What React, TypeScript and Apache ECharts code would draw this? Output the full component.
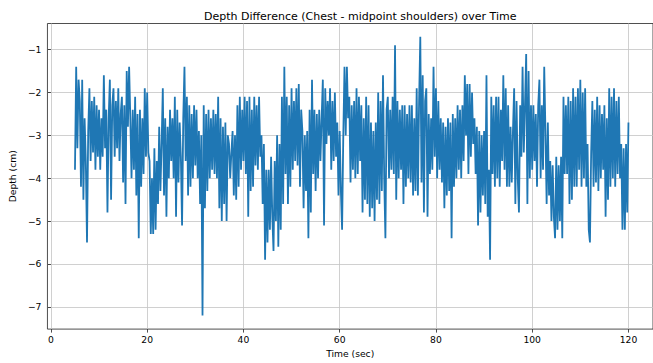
import React, { useEffect, useRef } from "react";
import * as echarts from "echarts";

const TITLE = "Depth Difference (Chest - midpoint shoulders) over Time";
const X_LABEL = "Time (sec)";
const Y_LABEL = "Depth (cm)";
const X_TICKS = [0, 20, 40, 60, 80, 100, 120];
const Y_TICKS = [-7, -6, -5, -4, -3, -2, -1];

// sampling of the recorded signal (seconds)
const SAMPLE_START = 5.0;
const SAMPLE_STEP = 0.25;

// depth values (cm), four samples per second
const depth = [
  -3.8, -1.4, -3.3, -1.7, // 5
  -2.2, -4.2, -1.7, -4.5, // 6
  -2.6, -3.6, -5.5, -2.9, // 7
  -1.9, -3.6, -2.2, -3.4, // 8
  -2.1, -3.8, -2.3, -3.5, // 9
  -2.4, -3.8, -2.6, -3.5, // 10
  -1.6, -3.3, -2.4, -4.8, // 11
  -2.6, -1.7, -4.5, -2.3, // 12
  -1.9, -3.5, -2.2, -3.3, // 13
  -1.9, -3.6, -2.5, -2.1, // 14
  -4.1, -2.3, -4.6, -1.5, // 15
  -2.8, -1.4, -2.6, -4.0, // 16
  -2.4, -3.8, -2.1, -4.4, // 17
  -2.5, -5.4, -2.4, -4.2, // 18
  -2.6, -3.9, -1.9, -3.5, // 19
  -2.0, -3.4, -3.6, -5.3, // 20
  -4.0, -5.3, -3.3, -5.2, // 21
  -3.6, -4.6, -2.8, -4.3, // 22
  -3.2, -1.9, -4.4, -2.6, // 23
  -4.9, -2.8, -4.0, -2.4, // 24
  -3.6, -2.6, -4.0, -2.1, // 25
  -4.9, -2.4, -4.1, -2.7, // 26
  -3.5, -5.1, -2.6, -1.4, // 27
  -3.6, -2.1, -4.4, -2.3, // 28
  -4.2, -2.5, -4.0, -2.3, // 29
  -3.7, -2.4, -4.0, -2.9, // 30
  -4.6, -3.0, -7.2, -2.3, // 31
  -4.7, -2.5, -4.3, -2.4, // 32
  -4.0, -2.6, -3.8, -2.4, // 33
  -3.9, -2.5, -4.0, -2.1, // 34
  -4.7, -2.6, -5.0, -2.8, // 35
  -4.6, -2.7, -5.0, -3.0, // 36
  -3.2, -4.0, -3.4, -2.9, // 37
  -4.4, -3.0, -4.5, -2.3, // 38
  -4.2, -2.1, -3.8, -2.4, // 39
  -3.6, -2.1, -3.9, -2.2, // 40
  -4.9, -2.1, -4.3, -2.4, // 41
  -4.2, -2.1, -3.7, -2.3, // 42
  -3.8, -2.1, -3.5, -3.0, // 43
  -4.6, -3.2, -5.9, -3.8, // 44
  -5.5, -3.8, -5.2, -3.5, // 45
  -4.9, -5.7, -3.6, -5.0, // 46
  -3.0, -5.6, -3.2, -5.2, // 47
  -2.1, -4.6, -1.4, -3.9, // 48
  -2.1, -4.6, -2.3, -4.2, // 49
  -1.9, -3.8, -2.2, -3.6, // 50
  -1.9, -3.7, -1.8, -4.2, // 51
  -2.4, -2.9, -4.7, -3.0, // 52
  -4.3, -2.9, -5.4, -2.4, // 53
  -4.8, -1.7, -3.9, -2.4, // 54
  -4.3, -2.5, -4.0, -2.4, // 55
  -3.6, -2.6, -1.7, -5.1, // 56
  -1.9, -3.2, -2.2, -3.0, // 57
  -1.9, -3.8, -2.2, -3.6, // 58
  -2.0, -3.5, -2.7, -4.4, // 59
  -2.9, -4.3, -5.2, -3.0, // 60
  -1.4, -3.0, -1.4, -2.6, // 61
  -2.1, -4.1, -2.3, -3.8, // 62
  -2.2, -4.0, -1.9, -3.9, // 63
  -2.1, -3.6, -2.3, -4.8, // 64
  -2.6, -4.5, -2.1, -4.6, // 65
  -2.3, -4.9, -2.7, -4.7, // 66
  -2.9, -5.0, -2.7, -4.5, // 67
  -2.0, -4.6, -2.2, -4.3, // 68
  -1.6, -4.0, -5.4, -2.4, // 69
  -2.1, -4.0, -2.4, -3.8, // 70
  -2.1, -3.9, -0.9, -4.5, // 71
  -2.2, -4.0, -2.4, -3.8, // 72
  -2.3, -4.6, -2.3, -4.2, // 73
  -2.5, -4.0, -2.3, -4.1, // 74
  -2.3, -4.4, -2.6, -4.3, // 75
  -1.9, -4.4, -2.2, -0.7, // 76
  -4.1, -1.6, -4.8, -2.2, // 77
  -1.9, -4.9, -2.5, -3.9, // 78
  -2.6, -3.8, -1.4, -3.5, // 79
  -1.9, -4.0, -2.2, -3.8, // 80
  -2.6, -4.1, -2.7, -4.7, // 81
  -2.8, -4.4, -2.6, -4.3, // 82
  -2.7, -5.4, -2.5, -4.2, // 83
  -2.6, -4.0, -2.3, -3.8, // 84
  -2.4, -4.0, -2.3, -3.6, // 85
  -1.6, -3.0, -1.8, -3.9, // 86
  -1.8, -3.5, -2.0, -3.2, // 87
  -2.6, -3.9, -2.8, -5.1, // 88
  -2.9, -4.8, -3.0, -4.4, // 89
  -2.9, -4.6, -1.6, -4.9, // 90
  -3.8, -5.9, -2.1, -3.9, // 91
  -2.3, -4.2, -2.1, -4.0, // 92
  -2.1, -4.2, -2.4, -3.6, // 93
  -1.6, -3.8, -1.9, -4.2, // 94
  -2.3, -4.2, -2.8, -4.1, // 95
  -2.9, -1.9, -4.6, -2.2, // 96
  -4.0, -4.8, -2.3, -3.5, // 97
  -1.4, -3.4, -2.3, -1.1, // 98
  -4.6, -1.5, -4.0, -2.3, // 99
  -3.8, -2.3, -3.6, -2.5, // 100
  -4.2, -2.3, -1.7, -4.0, // 101
  -2.3, -3.8, -1.4, -2.9, // 102
  -4.6, -2.7, -4.4, -3.6, // 103
  -5.0, -3.7, -4.9, -5.4, // 104
  -3.5, -5.2, -3.7, -5.0, // 105
  -3.5, -5.4, -2.1, -3.9, // 106
  -2.3, -3.9, -2.1, -4.6, // 107
  -2.2, -4.5, -1.9, -4.2, // 108
  -2.1, -4.2, -1.9, -3.8, // 109
  -1.7, -4.2, -2.0, -4.0, // 110
  -1.9, -4.2, -3.2, -5.2, // 111
  -5.5, -3.4, -2.2, -4.2, // 112
  -2.4, -4.1, -2.1, -4.3, // 113
  -2.3, -4.0, -2.5, -3.8, // 114
  -2.3, -4.9, -2.6, -4.5, // 115
  -1.9, -4.2, -2.1, -4.0, // 116
  -1.9, -4.2, -2.2, -3.9, // 117
  -2.1, -4.0, -3.2, -5.2, // 118
  -3.3, -5.2, -3.2, -4.8, // 119
  -2.7, // 120
];

const FONT = "'DejaVu Sans', sans-serif";
const fmtMinus = (v: number) => String(v).replace("-", "\u2212");

export default function App() {
  const ref = useRef<HTMLDivElement>(null);
  useEffect(() => {
    if (!ref.current) return;
    const chart = echarts.init(ref.current, null, { renderer: "svg" });
    const points = depth.map((v, i) => [SAMPLE_START + i * SAMPLE_STEP, v]);
    chart.setOption({
      animation: false,
      backgroundColor: "#ffffff",
      title: {
        text: TITLE,
        left: 199,
        top: 6,
        textStyle: { fontFamily: FONT, fontSize: 11, fontWeight: "normal", color: "#000" },
      },
      grid: {
        left: 46.5,
        top: 23.5,
        right: -7,
        bottom: 32.3,
        show: true,
        borderColor: "#222",
        borderWidth: 0.8,
        backgroundColor: "transparent",
      },
      xAxis: {
        type: "value",
        min: -0.72,
        max: 125.1,
        name: X_LABEL,
        nameLocation: "middle",
        nameGap: 18,
        nameTextStyle: { fontFamily: FONT, fontSize: 9.2, color: "#000" },
        axisLine: { show: false },
        axisTick: {
          show: true,
          customValues: X_TICKS,
          length: 3.5,
          lineStyle: { color: "#222", width: 0.8 },
        },
        axisLabel: {
          customValues: X_TICKS,
          margin: 6,
          fontFamily: FONT,
          fontSize: 9.2,
          color: "#000",
          formatter: (v: number) => fmtMinus(v),
        },
        splitLine: { show: true, lineStyle: { color: "#c4c4c4", width: 0.8 } },
      },
      yAxis: {
        type: "value",
        min: -7.52,
        max: -0.39,
        name: Y_LABEL,
        nameLocation: "middle",
        nameGap: 23,
        nameRotate: 90,
        nameTextStyle: { fontFamily: FONT, fontSize: 9.2, color: "#000" },
        axisLine: { show: false },
        axisTick: {
          show: true,
          customValues: Y_TICKS,
          length: 3.5,
          lineStyle: { color: "#222", width: 0.8 },
        },
        axisLabel: {
          customValues: Y_TICKS,
          margin: 6,
          fontFamily: FONT,
          fontSize: 9.2,
          color: "#000",
          formatter: (v: number) => fmtMinus(v),
        },
        splitLine: { show: true, lineStyle: { color: "#c4c4c4", width: 0.8 } },
      },
      series: [
        {
          type: "line",
          data: points,
          showSymbol: false,
          symbol: "none",
          clip: true,
          lineStyle: { color: "#1f77b4", width: 1.8, join: "miter", miterLimit: 2 },
        },
      ],
    });
    return () => chart.dispose();
  }, []);
  return <div ref={ref} style={{ width: 653, height: 363, position: "absolute", left: 0, top: 0 }} />;
}
